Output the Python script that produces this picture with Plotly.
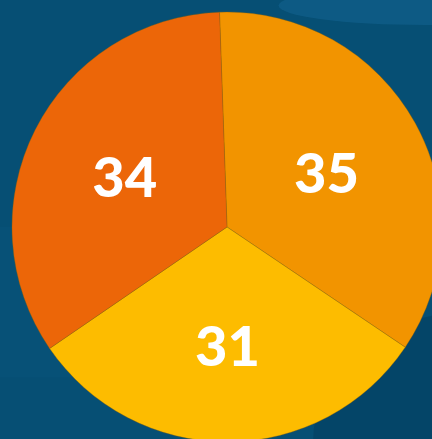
import plotly.graph_objects as go

labels = ["A", "B", "C"]
values = [35, 31, 34]
colors = ["#F29400", "#FDBC00", "#EC6608"]

fig = go.Figure(go.Pie(
    labels=labels,
    values=values,
    sort=False,
    direction="clockwise",
    rotation=-2,
    marker=dict(colors=colors, line=dict(color="rgba(150,100,0,0.6)", width=0.6)),
    textinfo="value",
    textposition="inside",
    insidetextorientation="horizontal",
    textfont=dict(family="Lato Black, Lato", size=56, color="white", weight=900),
    showlegend=False,
    hoverinfo="none",
))

shapes = [
    dict(type="rect", xref="paper", yref="paper", x0=-0.1, x1=0.2, y0=0.15, y1=0.5,
         fillcolor="rgba(30,120,170,0.08)", line_width=0, layer="below"),
    dict(type="circle", xref="paper", yref="paper", x0=0.62, x1=1.3, y0=0.97, y1=1.06,
         fillcolor="rgba(40,130,190,0.22)", line_width=0, layer="below"),
    dict(type="circle", xref="paper", yref="paper", x0=0.7, x1=1.4, y0=-0.3, y1=0.3,
         fillcolor="rgba(0,30,60,0.2)", line_width=0, layer="below"),
]

fig.update_layout(
    width=442, height=442,
    margin=dict(l=12, t=12, r=0, b=0),
    paper_bgcolor="#064f74",
    plot_bgcolor="#064f74",
    shapes=shapes,
)

fig.write_html(
    "out.html",
    config={"displayModeBar": False},
    post_script="document.documentElement.style.overflow='hidden';document.body.style.overflow='hidden';document.body.style.margin='0';",
)
